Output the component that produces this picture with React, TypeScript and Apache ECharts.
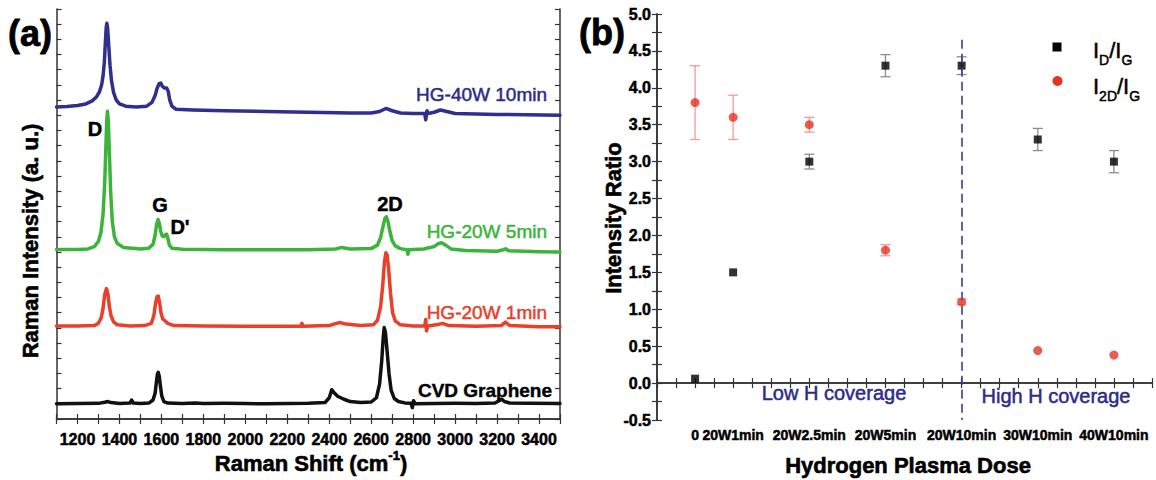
import React, { useEffect, useRef } from 'react';
import * as echarts from 'echarts';

// ---------- Panel (a): Raman spectra (offset, arbitrary units) ----------
const cvdGraphene: [number, number][] = [
  [1100, 1.0], [1200, 1.02], [1300, 1.03], [1330, 1.1], [1345, 1.15], [1360, 1.08], [1400, 1.02],
  [1450, 1.05], [1458, 1.25], [1466, 1.05], [1500, 1.02], [1540, 1.05], [1560, 1.25], [1570, 1.7],
  [1576, 2.4], [1581, 2.95], [1585, 3.07], [1590, 2.8], [1595, 2.2], [1602, 1.5], [1612, 1.15],
  [1630, 1.05], [1700, 1.02], [1760, 1.06], [1800, 1.02], [1900, 1.03], [2000, 1.02], [2100, 1.0],
  [2200, 1.02], [2300, 1.03], [2380, 1.08], [2400, 1.4], [2412, 1.93], [2422, 1.75], [2440, 1.5],
  [2470, 1.3], [2500, 1.15], [2550, 1.08], [2600, 1.12], [2625, 1.4], [2640, 2.3], [2650, 3.8],
  [2657, 5.3], [2662, 6.02], [2668, 5.7], [2675, 4.6], [2685, 3.0], [2695, 1.9], [2710, 1.35],
  [2730, 1.15], [2760, 1.06], [2790, 1.04], [2796, 0.75], [2802, 1.2], [2810, 1.0], [2900, 1.02],
  [3000, 1.03], [3100, 1.02], [3190, 1.05], [3210, 1.2], [3222, 1.31], [3235, 1.15], [3260, 1.05],
  [3350, 1.03], [3500, 1.02],
];

const hg20w1min: [number, number][] = [
  [1100, 6.12], [1200, 6.12], [1280, 6.15], [1300, 6.3], [1314, 6.7], [1322, 7.3], [1330, 8.2],
  [1338, 8.59], [1345, 8.25], [1352, 7.4], [1360, 6.8], [1372, 6.4], [1390, 6.2], [1450, 6.13],
  [1520, 6.15], [1552, 6.3], [1564, 6.8], [1572, 7.6], [1579, 8.05], [1585, 8.1], [1591, 7.7],
  [1598, 7.0], [1606, 6.6], [1618, 6.45], [1630, 6.3], [1660, 6.15], [1800, 6.12], [2000, 6.1],
  [2200, 6.1], [2265, 6.1], [2270, 6.3], [2275, 6.1], [2400, 6.15], [2430, 6.28], [2452, 6.35],
  [2480, 6.25], [2550, 6.15], [2610, 6.2], [2630, 6.5], [2645, 7.4], [2655, 8.8], [2663, 10.3],
  [2670, 10.95], [2676, 10.8], [2683, 9.9], [2692, 8.3], [2702, 7.0], [2715, 6.45], [2740, 6.2],
  [2800, 6.12], [2855, 6.12], [2860, 6.55], [2864, 5.8], [2870, 6.12], [2910, 6.2], [2940, 6.3],
  [2970, 6.15], [3100, 6.1], [3220, 6.15], [3240, 6.38], [3260, 6.15], [3400, 6.08], [3500, 6.07],
];

const hg20w5min: [number, number][] = [
  [1100, 11.17], [1200, 11.17], [1250, 11.2], [1280, 11.35], [1300, 11.7], [1312, 12.3],
  [1322, 13.5], [1330, 15.6], [1336, 18.2], [1340, 19.8], [1343, 20.26], [1347, 19.6],
  [1352, 17.6], [1358, 15.0], [1366, 13.0], [1376, 12.0], [1390, 11.55], [1420, 11.3],
  [1500, 11.2], [1540, 11.25], [1560, 11.5], [1570, 12.1], [1577, 12.8], [1584, 13.14],
  [1590, 12.9], [1597, 12.35], [1604, 12.05], [1612, 12.0], [1620, 12.15], [1625, 12.16],
  [1630, 11.95], [1638, 11.45], [1650, 11.25], [1700, 11.18], [1900, 11.15], [2100, 11.15],
  [2300, 11.15], [2430, 11.2], [2460, 11.3], [2500, 11.2], [2600, 11.22], [2630, 11.45],
  [2645, 11.95], [2655, 12.6], [2665, 13.2], [2672, 13.32], [2680, 13.0], [2690, 12.3],
  [2700, 11.75], [2715, 11.4], [2740, 11.22], [2770, 11.15], [2775, 10.85], [2780, 11.15],
  [2850, 11.2], [2900, 11.35], [2920, 11.55], [2935, 11.61], [2955, 11.45], [2980, 11.2],
  [3050, 11.1], [3200, 11.05], [3230, 11.15], [3241, 11.21], [3255, 11.08], [3400, 11.02],
  [3500, 11.0],
];

const hg40w10min: [number, number][] = [
  [1100, 20.55], [1150, 20.58], [1200, 20.65], [1240, 20.75], [1270, 20.95], [1290, 21.2],
  [1305, 21.55], [1315, 22.0], [1322, 22.6], [1328, 23.5], [1333, 24.8], [1337, 25.8],
  [1340, 26.06], [1344, 25.7], [1349, 24.6], [1355, 23.3], [1362, 22.3], [1372, 21.5],
  [1385, 21.0], [1400, 20.75], [1430, 20.6], [1480, 20.55], [1530, 20.6], [1555, 20.85],
  [1570, 21.3], [1580, 21.8], [1590, 22.1], [1597, 22.12], [1605, 21.9], [1615, 21.8],
  [1625, 21.8], [1632, 21.6], [1640, 21.0], [1650, 20.6], [1670, 20.4], [1750, 20.35],
  [1900, 20.3], [2100, 20.25], [2300, 20.2], [2500, 20.15], [2600, 20.15], [2640, 20.25],
  [2670, 20.45], [2700, 20.3], [2740, 20.15], [2800, 20.12], [2855, 20.12], [2860, 19.7],
  [2866, 20.3], [2872, 20.12], [2900, 20.2], [2930, 20.35], [2960, 20.25], [3000, 20.12],
  [3200, 20.06], [3500, 20.0],
];

// ---------- Panel (b): intensity ratios ----------
const doseLabels = ['0', '20W1min', '20W2.5min', '20W5min', '20W10min', '30W10min', '40W10min'];
const dosePositions = [0.5, 1, 2, 3, 4, 5, 6];
const idIg = [0.06, 1.5, 3.0, 4.3, 4.3, 3.3, 3.0];
const idIgErr = [0, 0, 0.1, 0.15, 0.12, 0.15, 0.15];
const i2dIg = [3.8, 3.6, 3.5, 1.8, 1.1, 0.44, 0.38];
const i2dIgErr = [0.5, 0.3, 0.1, 0.075, 0.04, 0, 0];

const FONT = 'Arial, "Liberation Sans", Helvetica, sans-serif';
const NAVY = '#2b2b8a';

let measureCtx: CanvasRenderingContext2D | null = null;
function tw(text: string, size: number, weight = 'normal') {
  if (!measureCtx) measureCtx = document.createElement('canvas').getContext('2d');
  measureCtx!.font = `${weight} ${size}px ${FONT}`;
  return measureCtx!.measureText(text).width;
}

type Piece = { t: string; size: number; weight?: string; dy?: number };
function textRun(parts: Piece[], x: number, y: number, align: 'left' | 'center', color: string, heavy = 0) {
  const widths = parts.map((p) => tw(p.t, p.size, p.weight || 'normal'));
  const total = widths.reduce((a, b) => a + b, 0);
  let cx = align === 'center' ? x - total / 2 : x;
  return parts.map((p, i) => {
    const el = {
      type: 'text',
      x: cx,
      y: y + (p.dy || 0),
      z: 50,
      style: {
        text: p.t, fontSize: p.size, fontWeight: p.weight || 'normal', fontFamily: FONT, fill: color,
        stroke: heavy ? color : undefined, lineWidth: heavy,
        align: 'left', textAlign: 'left', verticalAlign: 'middle', textVerticalAlign: 'middle',
      },
    };
    cx += widths[i];
    return el;
  });
}

function label(text: string, x: number, y: number, size: number, weight: string, color: string,
  align: 'left' | 'center' | 'right' = 'center', rotation = 0, heavy = 0) {
  return {
    type: 'text', x, y, rotation, z: 50,
    style: {
      text, fontSize: size, fontWeight: weight, fontFamily: FONT, fill: color,
      stroke: heavy ? color : undefined, lineWidth: heavy,
      align, textAlign: align, verticalAlign: 'middle', textVerticalAlign: 'middle',
    },
  };
}

function errorSeries(values: number[], errs: number[], color: string) {
  const data = dosePositions
    .map((p, i) => [p, values[i] - errs[i], values[i] + errs[i]])
    .filter((_, i) => errs[i] > 0);
  return {
    type: 'custom', xAxisIndex: 2, yAxisIndex: 2, z: 3,
    data,
    encode: { x: 0, y: [1, 2] },
    renderItem: (params: any, api: any) => {
      const x = api.value(0);
      const top = api.coord([x, api.value(2)]);
      const bot = api.coord([x, api.value(1)]);
      const cap = 5;
      const style = { stroke: color, lineWidth: 1.3 };
      return {
        type: 'group',
        children: [
          { type: 'line', shape: { x1: top[0], y1: top[1], x2: bot[0], y2: bot[1] }, style },
          { type: 'line', shape: { x1: top[0] - cap, y1: top[1], x2: top[0] + cap, y2: top[1] }, style },
          { type: 'line', shape: { x1: bot[0] - cap, y1: bot[1], x2: bot[0] + cap, y2: bot[1] }, style },
        ],
      };
    },
  };
}

const axisLine = { show: true, lineStyle: { color: '#333', width: 1.5 } };
const tick = { show: true, inside: true, length: 5, lineStyle: { color: '#333', width: 1.2 } };
const tickLabel = {
  fontWeight: 'bold', color: '#000', fontFamily: FONT, textBorderColor: '#000', textBorderWidth: 0.5,
};

export default function App() {
  const ref = useRef<HTMLDivElement>(null);
  useEffect(() => {
    if (!ref.current) return;
    const chart = echarts.init(ref.current, null, { renderer: 'svg', width: 1156, height: 480 });

    const gridA = { left: 56.5, top: 9, width: 503.5, height: 410 };
    const gridB = { left: 657, top: 14, width: 495, height: 406 };

    const graphic: any[] = [
      label('(a)', 30, 33, 36, 'bold', '#000', 'center', 0, 0.8),
      label('(b)', 602, 32, 36, 'bold', '#000', 'center', 0, 0.8),
      label('Raman Intensity (a. u.)', 30, 241, 22, 'bold', '#000', 'center', Math.PI / 2, 0.6),
      ...textRun([
        { t: 'Raman Shift (cm', size: 22, weight: 'bold' },
        { t: '-1', size: 13, weight: 'bold', dy: -8 },
        { t: ')', size: 22, weight: 'bold' },
      ], 311, 463, 'center', '#000', 0.6),
      label('HG-40W 10min', 547, 94, 19, 'normal', NAVY, 'right', 0, 0.5),
      label('HG-20W 5min', 547, 231, 19, 'normal', '#3cb43c', 'right', 0, 0.5),
      label('HG-20W 1min', 547, 312, 19, 'normal', '#e8402a', 'right', 0, 0.5),
      label('CVD Graphene', 552, 390, 19, 'bold', '#000', 'right', 0, 0.4),
      label('D', 95, 129, 20, 'bold', '#000', 'center', 0, 0.5),
      label('G', 160, 205, 20, 'bold', '#000', 'center', 0, 0.5),
      label("D'", 180, 227, 20, 'bold', '#000', 'center', 0, 0.5),
      label('2D', 390, 204, 20, 'bold', '#000', 'center', 0, 0.5),

      label('Intensity Ratio', 613, 218, 22, 'bold', '#000', 'center', Math.PI / 2, 0.6),
      label('Hydrogen Plasma Dose', 908, 465, 22, 'bold', '#000', 'center', 0, 0.6),
      label('Low H coverage', 834, 393, 20, 'normal', NAVY, 'center', 0, 0.5),
      label('High H coverage', 1056, 396, 20, 'normal', NAVY, 'center', 0, 0.5),
      { type: 'rect', z: 50, shape: { x: 1052.5, y: 42.5, width: 9, height: 9 }, style: { fill: '#000' } },
      { type: 'circle', z: 50, shape: { cx: 1057.5, cy: 81, r: 5 }, style: { fill: '#e63222' } },
      ...textRun([
        { t: 'I', size: 22 },
        { t: 'D', size: 14, dy: 10 },
        { t: '/I', size: 22 },
        { t: 'G', size: 14, dy: 10 },
      ], 1093, 50, 'left', '#000', 0.5),
      ...textRun([
        { t: 'I', size: 22 },
        { t: '2D', size: 14, dy: 10 },
        { t: '/I', size: 22 },
        { t: 'G', size: 14, dy: 10 },
      ], 1093, 86, 'left', '#000', 0.5),
    ];

    const lineSeries = (name: string, data: [number, number][], color: string) => ({
      name, type: 'line', xAxisIndex: 0, yAxisIndex: 0, data, showSymbol: false, symbol: 'none',
      lineStyle: { color, width: 3.5, cap: 'round', join: 'round' }, z: 2,
    });

    const option: any = {
      animation: false,
      backgroundColor: '#fff',
      textStyle: { fontFamily: FONT },
      grid: [gridA, gridB],
      xAxis: [
        {
          gridIndex: 0, type: 'value', min: 1100, max: 3500, interval: 100, position: 'bottom',
          axisLine, axisTick: tick, splitLine: { show: false },
          axisLabel: {
            ...tickLabel, margin: 12, fontSize: 16,
            formatter: (v: number) => (v % 200 === 0 ? String(v) : ''),
          },
        },
        {
          gridIndex: 0, type: 'value', min: 1100, max: 3500, interval: 100, position: 'top',
          axisLine, axisTick: tick, splitLine: { show: false }, axisLabel: { show: false },
        },
        {
          gridIndex: 1, type: 'value', min: 0, max: 6.5, interval: 0.25, position: 'bottom',
          axisLine, axisTick: tick, splitLine: { show: false },
          axisLabel: {
            ...tickLabel, margin: 8, fontSize: 14,
            formatter: (v: number) => {
              const i = dosePositions.findIndex((p) => Math.abs(p - v) < 1e-6);
              return i >= 0 ? doseLabels[i] : '';
            },
          },
        },
        {
          gridIndex: 1, type: 'value', min: 0, max: 6.5, interval: 0.25, position: 'top',
          axisLine, axisTick: tick, splitLine: { show: false }, axisLabel: { show: false },
        },
      ],
      yAxis: [
        {
          gridIndex: 0, type: 'value', min: 0, max: 27, interval: 1, position: 'left',
          axisLine, axisTick: tick, splitLine: { show: false }, axisLabel: { show: false },
        },
        {
          gridIndex: 0, type: 'value', min: 0, max: 27, interval: 1, position: 'right',
          axisLine, axisTick: tick, splitLine: { show: false }, axisLabel: { show: false },
        },
        {
          gridIndex: 1, type: 'value', min: -0.5, max: 5, interval: 0.25, position: 'left',
          axisLine, axisTick: tick, splitLine: { show: false },
          axisLabel: {
            ...tickLabel, margin: 6, fontSize: 16,
            formatter: (v: number) => (Math.abs(v * 2 - Math.round(v * 2)) < 1e-6 ? v.toFixed(1) : ''),
          },
        },
        {
          gridIndex: 1, type: 'value', min: -0.5, max: 5, interval: 0.25, position: 'right',
          axisLine, axisTick: tick, splitLine: { show: false }, axisLabel: { show: false },
        },
      ],
      series: [
        lineSeries('CVD Graphene', cvdGraphene, '#111111'),
        lineSeries('HG-20W 1min', hg20w1min, '#e8402a'),
        lineSeries('HG-20W 5min', hg20w5min, '#3cb43c'),
        lineSeries('HG-40W 10min', hg40w10min, '#2e2f8f'),
        errorSeries(idIg, idIgErr, '#8c8c8c'),
        errorSeries(i2dIg, i2dIgErr, '#f29a94'),
        {
          name: 'ID/IG', type: 'scatter', xAxisIndex: 2, yAxisIndex: 2, z: 4,
          symbol: 'rect', symbolSize: 8, itemStyle: { color: '#000' },
          data: dosePositions.map((p, i) => [p, idIg[i]]),
          markLine: {
            silent: true, symbol: ['none', 'none'], label: { show: false },
            lineStyle: { color: '#3b3b9b', width: 1.6, type: [9, 5] },
            data: [[{ coord: [4, 4.65] }, { coord: [4, -0.5] }]],
          },
        },
        {
          name: 'I2D/IG', type: 'scatter', xAxisIndex: 2, yAxisIndex: 2, z: 5,
          symbol: 'circle', symbolSize: 9, itemStyle: { color: '#e63222' },
          data: dosePositions.map((p, i) => [p, i2dIg[i]]),
        },
      ],
      graphic,
    };

    chart.setOption(option);
    return () => chart.dispose();
  }, []);

  return (
    <div
      ref={ref}
      style={{ position: 'fixed', left: 0, top: 0, width: 1156, height: 480, background: '#fff' }}
    />
  );
}
